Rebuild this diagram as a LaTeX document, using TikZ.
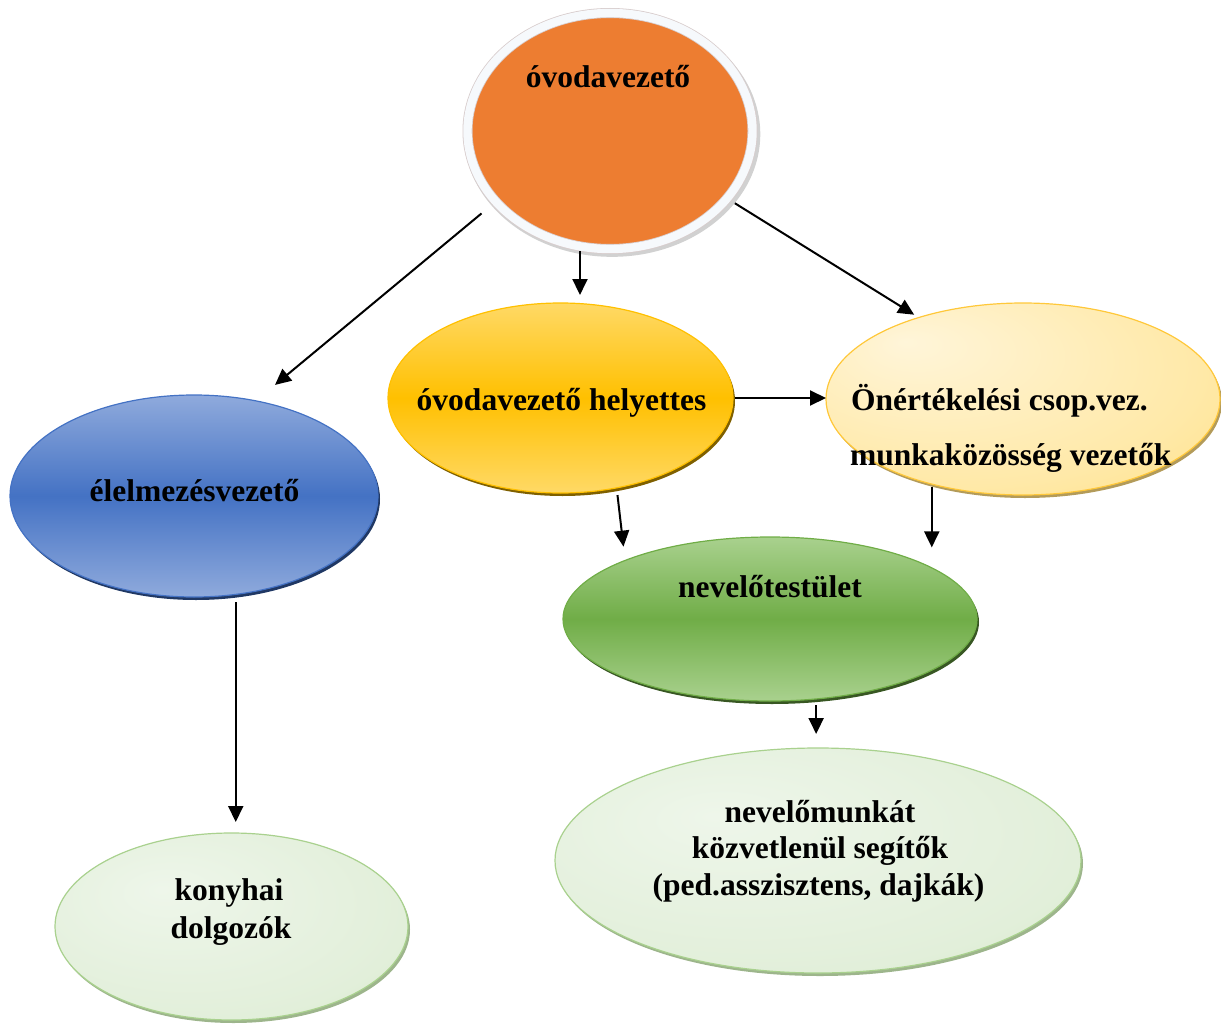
\documentclass[tikz,border=0pt]{standalone}
\usepackage{fontspec}
\setmainfont{Liberation Serif}
\usetikzlibrary{arrows.meta,shapes.geometric,shadows}

\definecolor{ovor}{HTML}{ED7D31}
\definecolor{ringc}{HTML}{F6F9FC}
\definecolor{ringo}{HTML}{D8CDCD}
\definecolor{hyA}{HTML}{FFD966}
\definecolor{hyB}{HTML}{FFC000}
\definecolor{hyS}{HTML}{7F6000}
\definecolor{oneA}{HTML}{FFF5D9}
\definecolor{oneB}{HTML}{FFE9A8}
\definecolor{oneC}{HTML}{FFD75E}
\definecolor{oneD}{HTML}{FFC83A}
\definecolor{oneS}{HTML}{B39B5A}
\definecolor{blA}{HTML}{8FAADC}
\definecolor{blB}{HTML}{4472C4}
\definecolor{blS}{HTML}{203864}
\definecolor{gnA}{HTML}{A9D18E}
\definecolor{gnB}{HTML}{70AD47}
\definecolor{gnS}{HTML}{385723}
\definecolor{lgA}{HTML}{EEF6EA}
\definecolor{lgB}{HTML}{E2EFDA}
\definecolor{lgC}{HTML}{C0DDAB}
\definecolor{lgD}{HTML}{A9D18E}
\definecolor{lgS}{HTML}{9DB58C}

\pgfdeclareradialshading{oneshade}{\pgfpoint{-15bp}{15bp}}{color(0bp)=(oneA); color(30bp)=(oneB); color(60bp)=(oneC)}
\pgfdeclareradialshading{lgshade}{\pgfpoint{-10bp}{10bp}}{color(0bp)=(lgA); color(30bp)=(lgB); color(60bp)=(lgC)}

\tikzset{
  ell/.style={ellipse, outer sep=0pt, inner sep=0pt},
  arr/.style={line width=2pt, -{Triangle[length=16pt,width=15pt]}},
  lbl/.style={font=\bfseries\fontsize{31.5}{38}\selectfont, inner sep=0pt, anchor=base},
  lblw/.style={font=\bfseries\fontsize{31.5}{38}\selectfont, inner sep=0pt, anchor=base west},
  shd/.style={drop shadow={shadow xshift=2pt, shadow yshift=-3pt, fill=#1, opacity=1}},
}

\begin{document}
\begin{tikzpicture}[x=1pt,y=-1pt]
\useasboundingbox (0,0) rectangle (1221,1025);

% ellipses
\node[ell, minimum width=285pt, minimum height=236pt, fill=ovor,
      draw=ringo, line width=0.8pt, double=ringc, double distance=8.4pt, outer sep=5pt,
      drop shadow={shadow xshift=2pt, shadow yshift=-3pt, shadow scale=1.04, fill=black!30, opacity=0.6}]
      (ov) at (610,131) {};

\node[ell, minimum width=345pt, minimum height=190pt, draw=hyB, line width=1.2pt,
      top color=hyA, bottom color=hyA, middle color=hyB, shd=hyS] (hely) at (560.5,398) {};

\node[ell, minimum width=394pt, minimum height=192pt, draw=oneD, line width=1.2pt,
      shade, shading=oneshade, shd=oneS] (one) at (1023,399) {};

\node[ell, minimum width=368pt, minimum height=202pt, draw=blB, line width=1.2pt,
      top color=blA, bottom color=blA, middle color=blB, shd=blS] (el) at (194,496) {};

\node[ell, minimum width=414pt, minimum height=164pt, draw=gnB, line width=1.2pt,
      top color=gnA, bottom color=gnA, middle color=gnB, shd=gnS] (nev) at (770,619) {};

\node[ell, minimum width=526pt, minimum height=225pt, draw=lgD, line width=1.2pt,
      shade, shading=lgshade, shd=lgS] (bot) at (818,860.5) {};

\node[ell, minimum width=353pt, minimum height=187pt, draw=lgD, line width=1.2pt,
      shade, shading=lgshade, shd=lgS] (kon) at (231.5,926.5) {};

% labels
\node[lbl] (t-ov) at (608,88) {óvodavezető};
\node[lbl] (t-hely) at (561.5,410) {óvodavezető helyettes};
\node[lblw] (t-one1) at (851,410) {Önértékelési csop.vez.};
\node[lblw] (t-one2) at (850,465) {munkaközösség vezetők};
\node[lbl] (t-el) at (194.5,501.5) {élelmezésvezető};
\node[lbl] (t-nev) at (770,597) {nevelőtestület};
\node[lbl] (t-bot1) at (820,822) {nevelőmunkát};
\node[lbl] (t-bot2) at (820,858) {közvetlenül segítők};
\node[lbl] (t-bot3) at (818.5,895) {(ped.asszisztens, dajkák)};
\node[lbl] (t-kon1) at (229,900) {konyhai};
\node[lbl] (t-kon2) at (231,938) {dolgozók};

% connectors
\draw[arr, shorten <=13.6pt, shorten >=25pt] (ov.212.9) -- (el.57.1);
\draw[arr, shorten >=8pt] (ov.256) -- (ov.256 |- hely.north);
\draw[arr, shorten <=4.2pt, shorten >=5.4pt] (ov.330.1) -- (one.142.4);
\draw[arr, shorten <=2pt] (hely.0.66) -- (hely.0.66 -| one.west);
\draw[arr, shorten <=7.3pt, shorten >=13.9pt] (hely.302.3) -- (nev.158.2);
\draw[arr, shorten <=2.6pt, shorten >=21.5pt] (one.223.5) -- (one.223.5 |- nev.17.21);
\draw[arr, shorten <=6.1pt, shorten >=14pt] (nev.300.47) -- (nev.300.47 |- bot.north);
\draw[arr, shorten <=7.8pt, shorten >=11pt] (el.293.65) -- (el.293.65 |- kon.north);
\end{tikzpicture}
\end{document}
